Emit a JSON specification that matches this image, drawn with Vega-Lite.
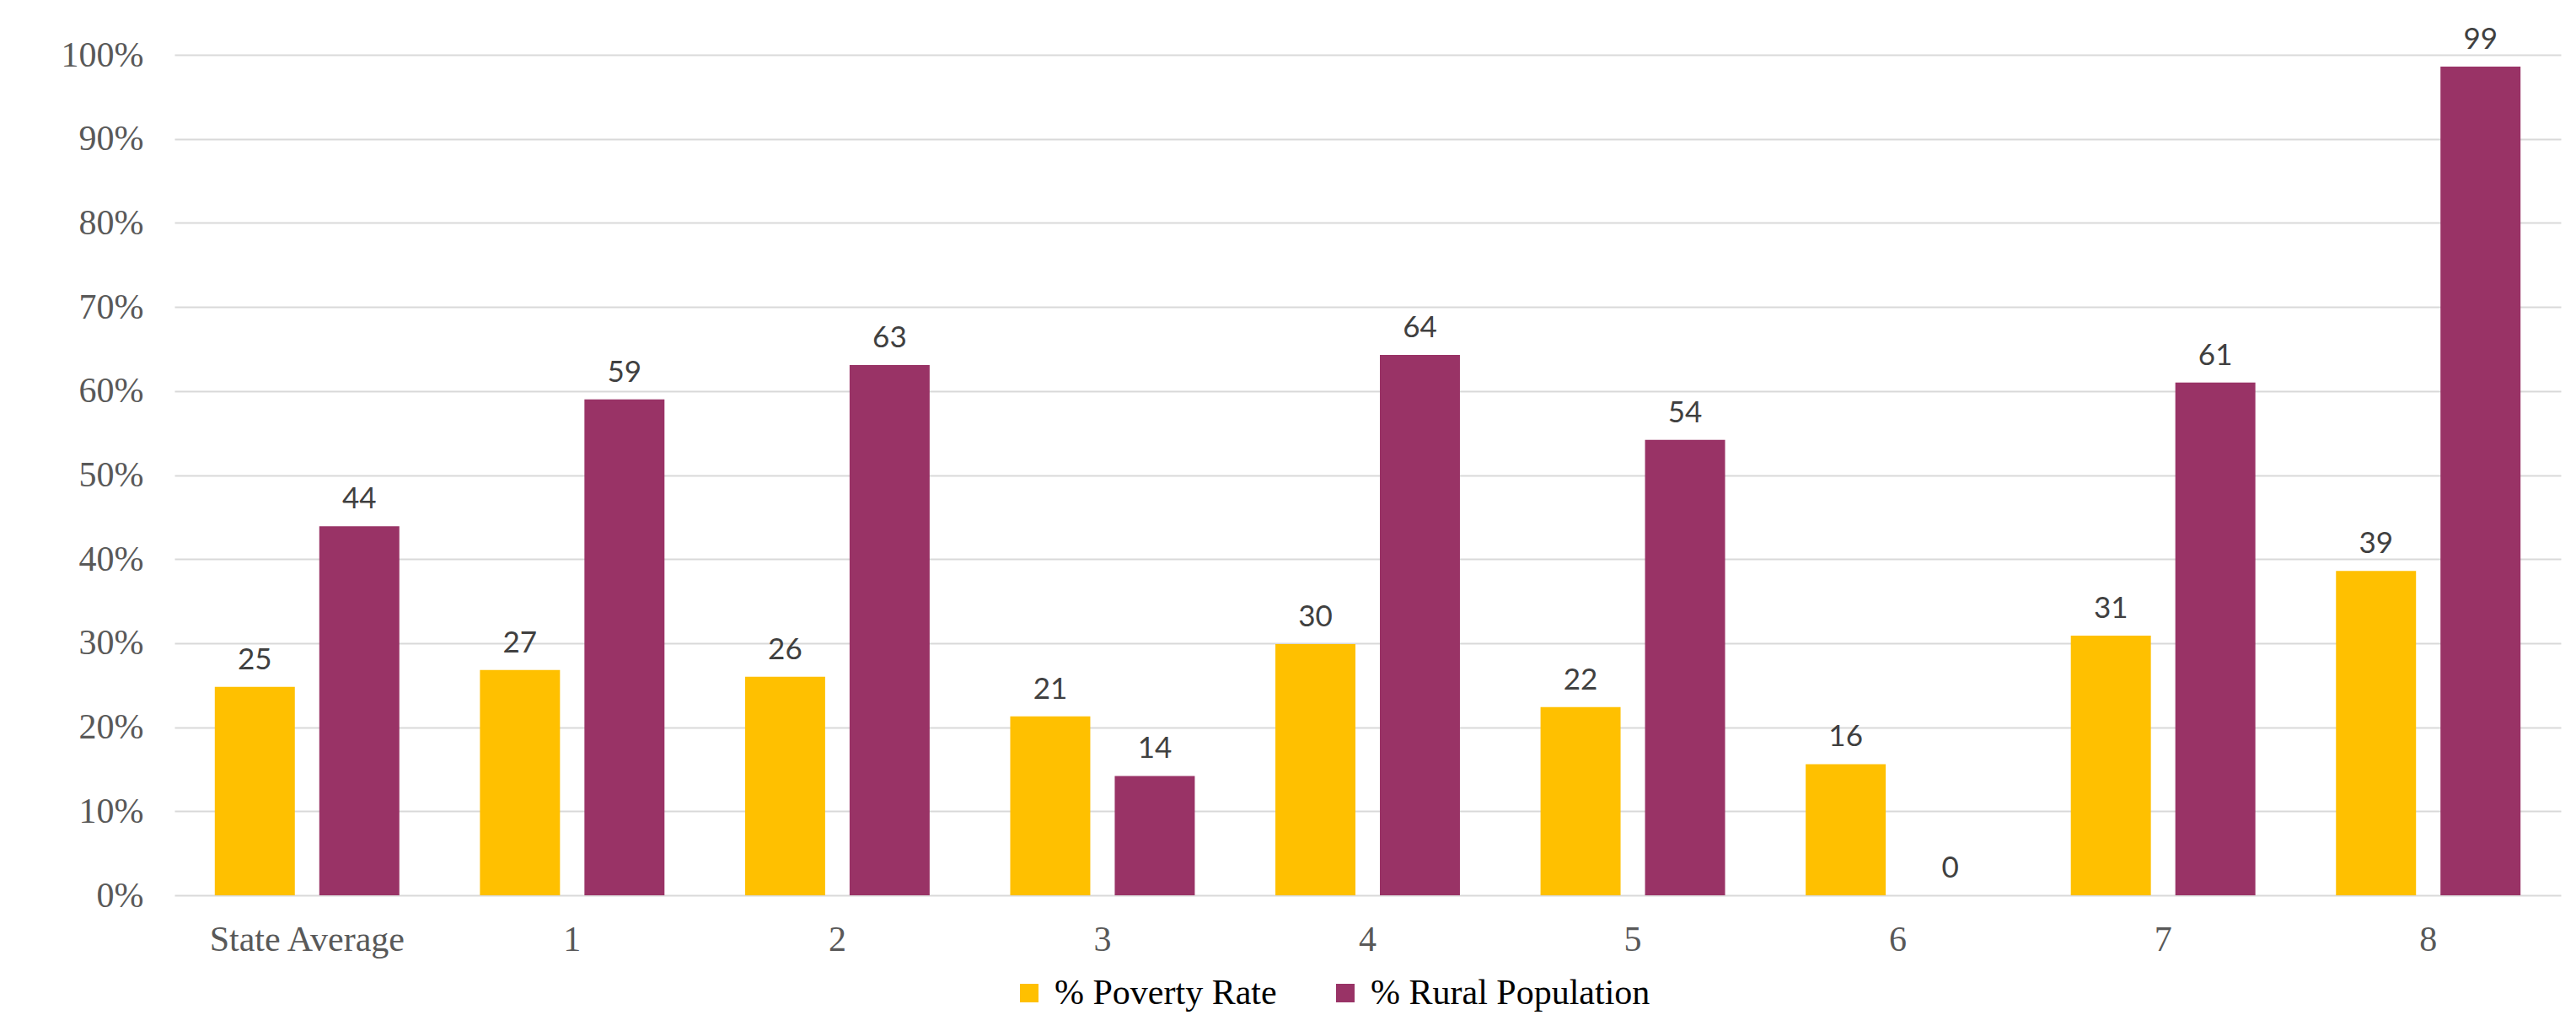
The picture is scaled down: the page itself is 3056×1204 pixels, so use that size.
{
  "$schema": "https://vega.github.io/schema/vega-lite/v6.json",
  "width": 2831,
  "height": 997,
  "autosize": {"type": "none"},
  "padding": {"left": 207, "top": 65, "right": 18, "bottom": 142},
  "background": "white",
  "config": {"view": {"stroke": null}},
  "data": {
    "values": [
      {"district": "State Average", "series": "% Poverty Rate", "value": 24.8},
      {"district": "State Average", "series": "% Rural Population", "value": 43.9},
      {"district": "1", "series": "% Poverty Rate", "value": 26.8},
      {"district": "1", "series": "% Rural Population", "value": 59.0},
      {"district": "2", "series": "% Poverty Rate", "value": 26.0},
      {"district": "2", "series": "% Rural Population", "value": 63.1},
      {"district": "3", "series": "% Poverty Rate", "value": 21.3},
      {"district": "3", "series": "% Rural Population", "value": 14.2},
      {"district": "4", "series": "% Poverty Rate", "value": 29.9},
      {"district": "4", "series": "% Rural Population", "value": 64.3},
      {"district": "5", "series": "% Poverty Rate", "value": 22.4},
      {"district": "5", "series": "% Rural Population", "value": 54.2},
      {"district": "6", "series": "% Poverty Rate", "value": 15.6},
      {"district": "6", "series": "% Rural Population", "value": 0},
      {"district": "7", "series": "% Poverty Rate", "value": 30.9},
      {"district": "7", "series": "% Rural Population", "value": 61.0},
      {"district": "8", "series": "% Poverty Rate", "value": 38.6},
      {"district": "8", "series": "% Rural Population", "value": 98.6}
    ]
  },
  "encoding": {
    "x": {
      "field": "district",
      "type": "nominal",
      "sort": null,
      "scale": {"paddingInner": 0.304, "paddingOuter": 0.152},
      "axis": {
        "title": null,
        "labelAngle": 0,
        "ticks": false,
        "domain": false,
        "labelFont": "Liberation Serif",
        "labelFontSize": 42,
        "labelColor": "#595959",
        "labelBaseline": "alphabetic",
        "labelPadding": 65,
        "labelLimit": 500
      }
    },
    "xOffset": {
      "field": "series",
      "type": "nominal",
      "sort": ["% Poverty Rate", "% Rural Population"],
      "scale": {"paddingInner": 0.234, "paddingOuter": 0}
    },
    "y": {
      "field": "value",
      "type": "quantitative",
      "scale": {"domain": [0, 100], "nice": false},
      "axis": {
        "title": null,
        "values": [0, 10, 20, 30, 40, 50, 60, 70, 80, 90, 100],
        "labelExpr": "datum.value + '%'",
        "ticks": false,
        "domain": false,
        "gridColor": "#d9d9d9",
        "gridWidth": 2,
        "labelFont": "Liberation Serif",
        "labelFontSize": 42,
        "labelColor": "#595959",
        "labelPadding": 37
      }
    }
  },
  "layer": [
    {
      "mark": {"type": "bar"},
      "encoding": {
        "color": {
          "field": "series",
          "type": "nominal",
          "scale": {
            "domain": ["% Poverty Rate", "% Rural Population"],
            "range": ["#FFC000", "#993366"]
          },
          "legend": {
            "orient": "none",
            "legendX": 993,
            "legendY": 1092,
            "direction": "horizontal",
            "title": null,
            "symbolType": "square",
            "symbolSize": 484,
            "symbolStrokeWidth": 0,
            "symbolOpacity": 1,
            "labelFont": "Liberation Serif",
            "labelFontSize": 42,
            "labelColor": "#000000",
            "labelOffset": 9,
            "columnPadding": 60,
            "labelLimit": 600
          }
        }
      }
    },
    {
      "mark": {
        "type": "text",
        "dy": -21,
        "baseline": "alphabetic",
        "font": "Lato",
        "fontSize": 35,
        "color": "#404040"
      },
      "encoding": {
        "text": {"field": "value", "type": "quantitative", "format": ".0f"}
      }
    }
  ]
}
